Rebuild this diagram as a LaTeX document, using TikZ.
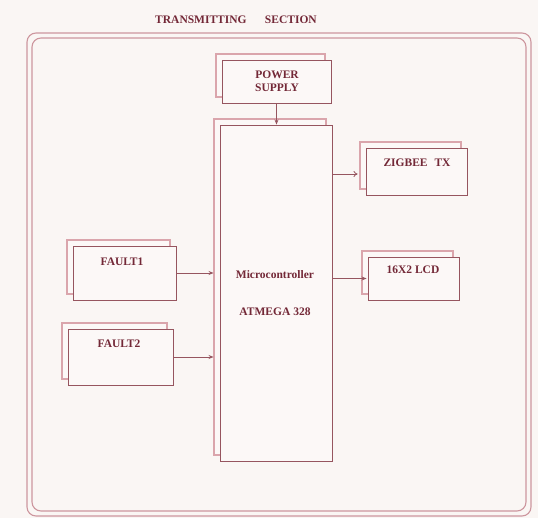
\documentclass[tikz,border=0pt]{standalone}
\usepackage{fontspec}
\setmainfont{Liberation Serif}
\usetikzlibrary{shadows,arrows.meta}
\definecolor{bgc}{RGB}{250,246,244}
\definecolor{linec}{RGB}{150,85,95}
\definecolor{shadc}{RGB}{218,165,172}
\definecolor{framec}{RGB}{205,150,158}
\definecolor{txtc}{RGB}{115,40,55}
\definecolor{boxfill}{RGB}{252,248,247}
\tikzset{
  blk/.style={draw=linec, line width=0.9pt, fill=boxfill, inner sep=0pt,
    copy shadow={shadow xshift=-6pt, shadow yshift=6pt, draw=shadc, fill=boxfill, line width=1.4pt}},
  lbl/.style={font=\bfseries\fontsize{11.5}{13.5}\selectfont, text=txtc, align=center, inner sep=0pt},
  arr/.style={draw=linec, line width=0.8pt, -{Stealth[length=5pt,width=4pt]}},
  frame/.style={draw=framec, line width=1.1pt, rounded corners=9pt}
}
\begin{document}
\begin{tikzpicture}[x=1pt,y=-1pt]
\useasboundingbox[fill=bgc] (0,0) rectangle (538,518);
\draw[frame] (27,33) rectangle (531,516);
\draw[frame] (32,38) rectangle (526,511);
\node[lbl] (title) at (236,20) {TRANSMITTING\hspace{1.6em}SECTION};
\node[blk, minimum width=109pt, minimum height=43pt] (ps) at (276.5,81.5) {};
\node[blk, minimum width=112pt, minimum height=336pt] (mc) at (276,293) {};
\node[blk, minimum width=103pt, minimum height=54pt] (f1) at (124.5,273) {};
\node[blk, minimum width=105pt, minimum height=56pt] (f2) at (120.5,357) {};
\node[blk, minimum width=101pt, minimum height=47pt] (zig) at (416.5,171.5) {};
\node[blk, minimum width=91pt, minimum height=43pt] (lcd) at (413.5,278.5) {};
\node[lbl] (pst) at (277,81.5) {POWER\\SUPPLY};
\node[lbl] (mct) at (275,275) {Microcontroller};
\node[lbl] (mct2) at (275,312) {ATMEGA 328};
\node[lbl] (f1t) at (122,262) {FAULT1};
\node[lbl] (f2t) at (119,344) {FAULT2};
\node[lbl] (zigt) at (417,163) {ZIGBEE\hspace{0.6em}TX};
\node[lbl] (lcdt) at (413,270) {16X2 LCD};
\draw[arr] (ps.south) -- (ps.south |- mc.north);
\draw[arr, shorten >=6pt] (f1.east) -- (f1.east -| mc.west);
\draw[arr, shorten >=6pt] (f2.east) -- (f2.east -| mc.west);
\draw[draw=linec, line width=0.8pt, -{To[length=4pt,width=6pt]}, shorten >=8pt] ([yshift=-2.5pt]mc.east |- zig.west) -- ([yshift=-2.5pt]zig.west);
\draw[arr, shorten >=1pt] (mc.east |- lcd.west) -- (lcd.west);
\end{tikzpicture}
\end{document}
